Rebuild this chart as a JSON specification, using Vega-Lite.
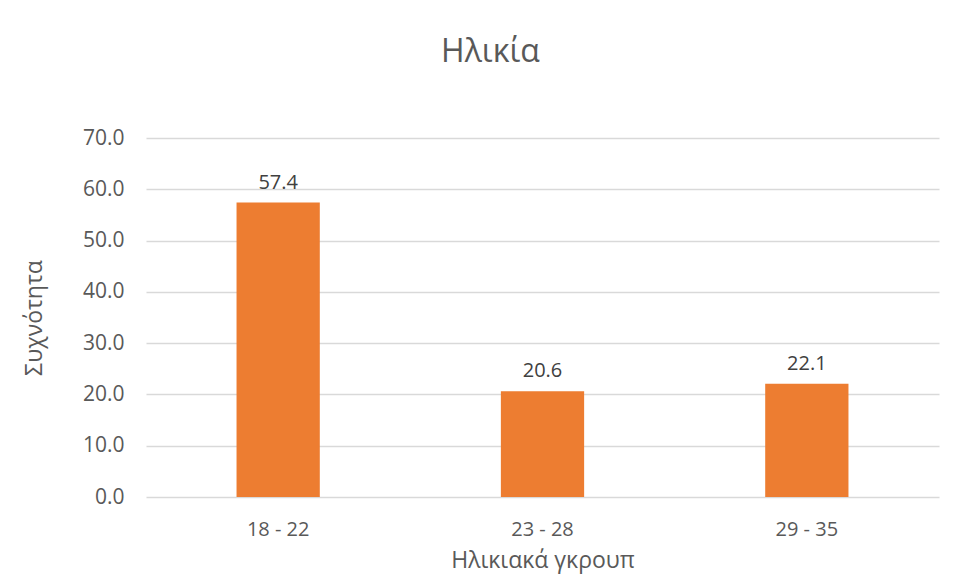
{
  "$schema": "https://vega.github.io/schema/vega-lite/v6.json",
  "width": 793,
  "height": 359,
  "autosize": "none",
  "padding": {"left": 146, "top": 138, "right": 19, "bottom": 84},
  "background": "white",
  "config": {
    "font": "Open Sans",
    "view": {"stroke": null}
  },
  "title": {
    "text": "Ηλικία",
    "fontSize": 32,
    "fontWeight": "normal",
    "color": "#595959",
    "font": "Open Sans",
    "anchor": "middle",
    "dx": -52,
    "offset": 58
  },
  "data": {
    "values": [
      {"group": "18 - 22", "value": 57.4},
      {"group": "23 - 28", "value": 20.6},
      {"group": "29 - 35", "value": 22.1}
    ]
  },
  "encoding": {
    "x": {
      "field": "group",
      "type": "nominal",
      "sort": null,
      "title": "Ηλικιακά γκρουπ",
      "scale": {"paddingInner": 0.685, "paddingOuter": 0.3425},
      "axis": {
        "labelAngle": 0,
        "labelFontSize": 20,
        "labelColor": "#595959",
        "labelPadding": 22,
        "ticks": false,
        "domain": false,
        "titleFontSize": 23,
        "titleFontWeight": "normal",
        "titleColor": "#595959",
        "titlePadding": 10
      }
    },
    "y": {
      "field": "value",
      "type": "quantitative",
      "title": "Συχνότητα",
      "scale": {"domain": [0, 70]},
      "axis": {
        "values": [0, 10, 20, 30, 40, 50, 60, 70],
        "format": ".1f",
        "labelFontSize": 21,
        "labelColor": "#595959",
        "labelPadding": 22,
        "ticks": false,
        "domain": false,
        "grid": true,
        "gridColor": "#D9D9D9",
        "gridWidth": 1.3,
        "titleFontSize": 23,
        "titleFontWeight": "normal",
        "titleColor": "#595959",
        "titlePadding": 36
      }
    }
  },
  "layer": [
    {"mark": {"type": "bar", "color": "#ED7D31"}},
    {
      "mark": {"type": "text", "baseline": "bottom", "dy": -10, "fontSize": 20, "color": "#404040"},
      "encoding": {"text": {"field": "value", "type": "quantitative", "format": ".1f"}}
    }
  ]
}
